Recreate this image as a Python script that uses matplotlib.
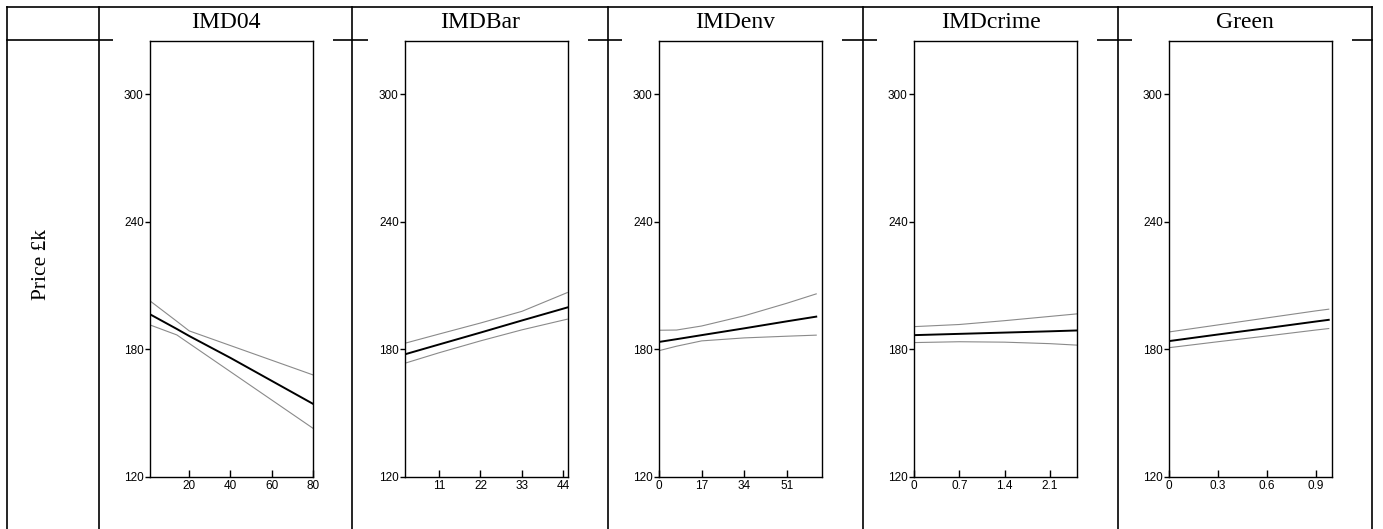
import matplotlib
matplotlib.use("Agg")
import matplotlib.pyplot as plt
from matplotlib.lines import Line2D
from matplotlib.patches import Rectangle

# covariate names (column headers)
names = ["IMD04", "IMDBar", "IMDenv", "IMDcrime", "Green"]

# x grid and fitted price (mean, upper, lower band) for each covariate
imd04_x = [1, 14, 20, 40, 60, 80]
imd04_mean = [196.5, 189.6, 186.3, 176.0, 165.2, 154.4]
imd04_hi = [202.8, 193.2, 188.7, 181.8, 174.9, 168.0]
imd04_lo = [191.5, 186.8, 182.8, 169.5, 156.2, 142.9]

imdbar_x = [2, 11, 22, 33, 45]
imdbar_mean = [177.7, 182.3, 187.9, 193.6, 199.7]
imdbar_hi = [182.9, 187.2, 192.4, 197.9, 206.7]
imdbar_lo = [173.5, 178.4, 184.0, 189.2, 194.2]

imdenv_x = [0, 7, 17, 34, 51, 62.7]
imdenv_mean = [183.5, 184.8, 186.7, 189.9, 193.2, 195.4]
imdenv_hi = [189.0, 189.1, 191.0, 195.8, 201.7, 206.1]
imdenv_lo = [179.4, 181.5, 184.0, 185.4, 186.2, 186.7]

imdcrime_x = [0, 0.7, 1.4, 2.1, 2.52]
imdcrime_mean = [186.7, 187.3, 187.9, 188.5, 188.9]
imdcrime_hi = [190.7, 191.7, 193.5, 195.5, 196.7]
imdcrime_lo = [183.2, 183.6, 183.4, 182.7, 182.0]

green_x = [0, 0.3, 0.6, 0.9, 0.98]
green_mean = [183.9, 187.0, 190.0, 193.1, 193.9]
green_hi = [188.2, 191.5, 194.8, 198.1, 198.9]
green_lo = [180.8, 183.6, 186.3, 189.1, 189.8]

# axis ranges and tick positions
xlims = [(1, 80), (2, 45.2), (0, 65), (0, 2.52), (0, 1.0)]
xticks = [[20, 40, 60, 80], [11, 22, 33, 44], [0, 17, 34, 51],
          [0, 0.7, 1.4, 2.1], [0, 0.3, 0.6, 0.9]]
xticklabels = [["20", "40", "60", "80"], ["11", "22", "33", "44"],
               ["0", "17", "34", "51"], ["0", "0.7", "1.4", "2.1"],
               ["0", "0.3", "0.6", "0.9"]]
yticks = [120, 180, 240, 300]
ylim = (120, 325)

series = [
    (imd04_x, imd04_mean, imd04_hi, imd04_lo),
    (imdbar_x, imdbar_mean, imdbar_hi, imdbar_lo),
    (imdenv_x, imdenv_mean, imdenv_hi, imdenv_lo),
    (imdcrime_x, imdcrime_mean, imdcrime_hi, imdcrime_lo),
    (green_x, green_mean, green_hi, green_lo),
]

W, H = 1383, 529
fig = plt.figure(figsize=(W / 100, H / 100), dpi=100)

def fx(px):
    return px / W

def fy(py):
    return 1 - py / H

# table grid
col_edges = [7, 99, 352, 608, 863, 1118, 1372]
lw_tab = 1.2
fig.add_artist(Line2D([fx(7), fx(1372)], [fy(7), fy(7)], color="black",
                      lw=lw_tab, transform=fig.transFigure))
fig.add_artist(Line2D([fx(7), fx(1372)], [fy(40), fy(40)], color="black",
                      lw=lw_tab, transform=fig.transFigure))
for c in col_edges:
    fig.add_artist(Line2D([fx(c), fx(c)], [fy(7), fy(H)], color="black",
                          lw=lw_tab, transform=fig.transFigure))

# column headers
for i, name in enumerate(names):
    cx = (col_edges[i + 1] + col_edges[i + 2]) / 2
    fig.text(fx(cx), fy(23), name, ha="center", va="center",
             family="Liberation Serif", fontsize=17)

fig.text(fx(42), fy(265), "Price £k", rotation=90, ha="center", va="center",
         family="Liberation Serif", fontsize=15.5)

ax_left = [150, 405, 659, 914, 1169]
ax_w = 163
ax_top, ax_bot = 41, 477

for i in range(5):
    l = ax_left[i]
    # white backdrop of each plot breaks the header rule
    fig.add_artist(Rectangle((fx(l - 37), fy(44)), fx(ax_w + 57), fy(36) - fy(44),
                             facecolor="white", edgecolor="none", zorder=3,
                             transform=fig.transFigure))
    ax = fig.add_axes([fx(l), fy(ax_bot), fx(ax_w), (ax_bot - ax_top) / H])
    ax.set_zorder(4)
    x, m, hi, lo = series[i]
    ax.plot(x, hi, color="#8a8a8a", lw=0.8)
    ax.plot(x, lo, color="#8a8a8a", lw=0.8)
    ax.plot(x, m, color="black", lw=1.4)
    ax.set_xlim(*xlims[i])
    ax.set_ylim(*ylim)
    ax.set_xticks(xticks[i])
    ax.set_xticklabels(xticklabels[i])
    ax.set_yticks(yticks)
    ax.set_yticklabels([str(t) for t in yticks])
    ax.tick_params(axis="x", direction="in", length=5, width=1, pad=2,
                   labelsize=8.5)
    ax.tick_params(axis="y", direction="out", length=3.5, width=1, pad=1,
                   labelsize=8.5)
    for lab in ax.get_xticklabels() + ax.get_yticklabels():
        lab.set_family("Liberation Sans")
    for sp in ax.spines.values():
        sp.set_linewidth(1.0)

fig.savefig("out.png", dpi=100)
